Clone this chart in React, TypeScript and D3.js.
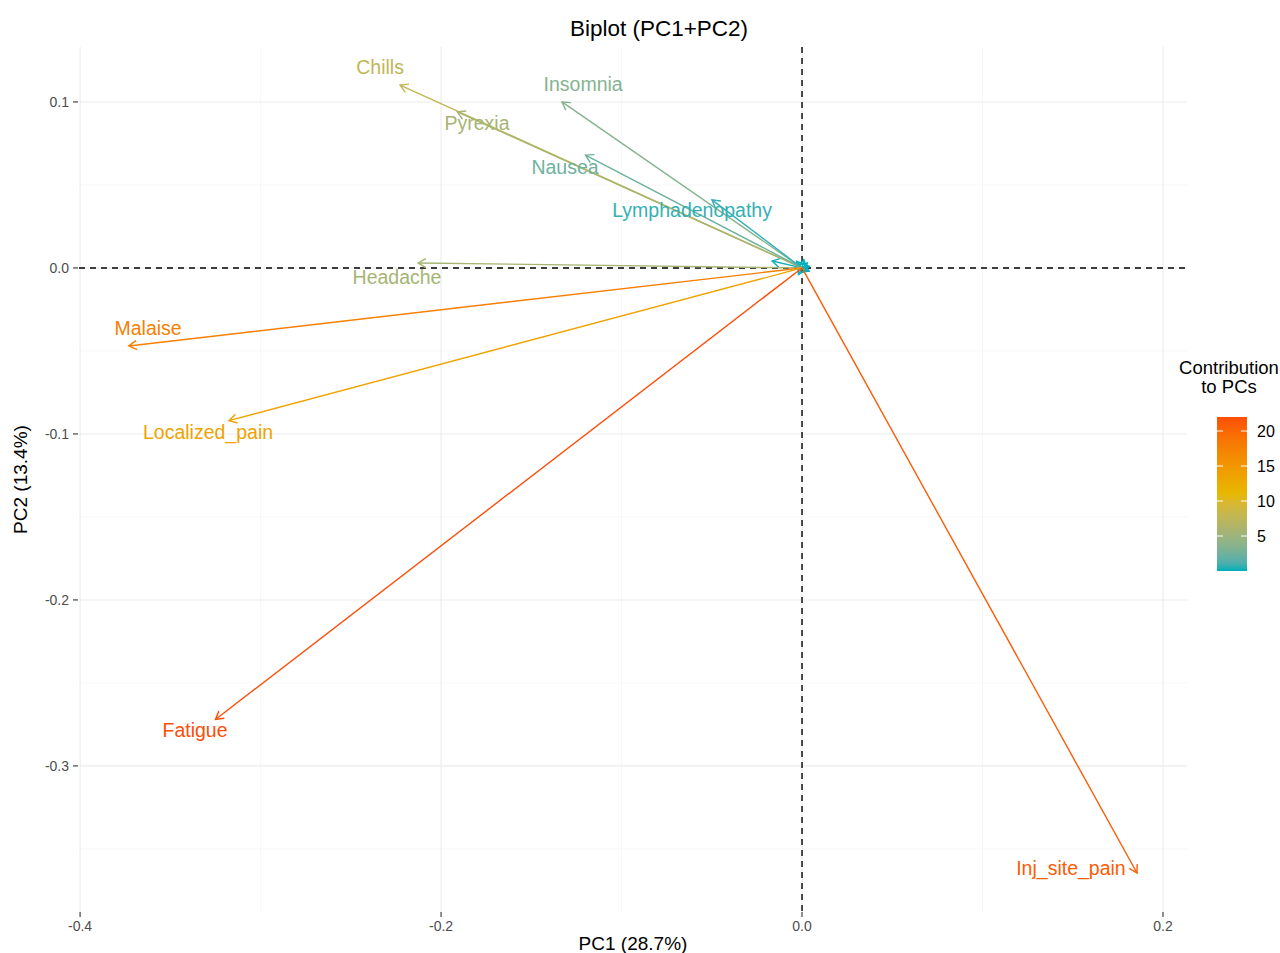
import React from "react";
import * as d3 from "d3";

// variable coordinates on PC1 / PC2
const varNames = ["Chills", "Pyrexia", "Insomnia", "Nausea", "Lymphadenopathy", "Headache", "Malaise", "Localized_pain", "Fatigue", "Inj_site_pain"];
const pc1 = [-0.2227, -0.191, -0.133, -0.12, -0.0499, -0.2127, -0.373, -0.3175, -0.325, 0.1856];
const pc2 = [0.1102, 0.094, 0.1, 0.068, 0.041, 0.003, -0.047, -0.092, -0.272, -0.3645];
const contrib = [7.7, 5.66, 3.46, 2.38, 0.52, 5.64, 17.66, 13.64, 22.0, 20.9];
// repelled label positions (data units)
const labelX = [-0.2338, -0.1801, -0.1213, -0.1313, -0.0609, -0.2244, -0.3623, -0.3291, -0.3363, 0.149];
const labelY = [0.1211, 0.0873, 0.1108, 0.0608, 0.0349, -0.0054, -0.0361, -0.0988, -0.2783, -0.3614];

// near-zero variables whose labels were dropped
const smallPc1 = [-0.0166, 0.003, -0.003, 0.004, -0.002, 0.001, 0.004];
const smallPc2 = [0.0042, 0.003, 0.004, -0.002, -0.004, 0.005, 0.001];
const smallContrib = [0.12, 0.02, 0.02, 0.02, 0.02, 0.02, 0.02];

const xTicks = [-0.4, -0.2, 0.0, 0.2];
const yTicks = [0.1, 0.0, -0.1, -0.2, -0.3];
const legendTicks = [5, 10, 15, 20];
const gradientCols = ["#00AFBB", "#E7B800", "#FC4E07"];

const W = 1280, H = 953;
const left = 79, right = 1187, top = 47, bottom = 912;
const font = "'Liberation Sans', Arial, Helvetica, sans-serif";

export default function App() {
  const x = d3.scaleLinear().domain([-0.4006, 0.2133]).range([left, right]);
  const y = d3.scaleLinear().domain([-0.388, 0.1331]).range([bottom, top]);
  const cMin = 0, cMax = 22.0;
  const color = d3.scaleLinear<string>()
    .domain([cMin, (cMin + cMax) / 2, cMax])
    .range(gradientCols)
    .interpolate(d3.interpolateLab);

  const fmt = (v: number) => d3.format(".1f")(v).replace("\u2212", "-");
  const xMinor = d3.range(-0.3, 0.21, 0.2);
  const yMinor = d3.range(0.05, -0.4, -0.1);

  const legTop = 417, legBottom = 571, legLeft = 1217, legW = 30;
  const leg = d3.scaleLinear().domain([cMin, cMax]).range([legBottom, legTop]);

  const arrow = (x1: number, y1: number, key: string, col: string) => {
    const sx = x(0), sy = y(0), ex = x(x1), ey = y(y1);
    const ang = Math.atan2(ey - sy, ex - sx);
    const len = 9, a = Math.PI / 6;
    const p1 = [ex - len * Math.cos(ang - a), ey - len * Math.sin(ang - a)];
    const p2 = [ex - len * Math.cos(ang + a), ey - len * Math.sin(ang + a)];
    return (
      <g key={key} stroke={col} strokeWidth={1.4} fill="none">
        <line x1={sx} y1={sy} x2={ex} y2={ey} />
        <path d={`M${p1[0]},${p1[1]}L${ex},${ey}L${p2[0]},${p2[1]}`} />
      </g>
    );
  };

  return (
    <svg width={W} height={H} style={{ position: "absolute", left: 0, top: 0 }} fontFamily={font}>
      <rect width={W} height={H} fill="#fff" />
      <defs>
        <linearGradient id="contribGrad" x1="0" y1="1" x2="0" y2="0">
          {d3.range(0, 1.001, 0.05).map((t) => (
            <stop key={t} offset={t} stopColor={color(cMin + t * (cMax - cMin))} />
          ))}
        </linearGradient>
      </defs>

      {/* grid */}
      {xMinor.map((v) => (
        <line key={"xm" + v} x1={x(v)} x2={x(v)} y1={top} y2={bottom} stroke="#F2F2F2" strokeWidth={0.6} />
      ))}
      {yMinor.map((v) => (
        <line key={"ym" + v} x1={left} x2={right} y1={y(v)} y2={y(v)} stroke="#F2F2F2" strokeWidth={0.6} />
      ))}
      {xTicks.map((v) => (
        <line key={"xg" + v} x1={x(v)} x2={x(v)} y1={top} y2={bottom} stroke="#EBEBEB" strokeWidth={1.1} />
      ))}
      {yTicks.map((v) => (
        <line key={"yg" + v} x1={left} x2={right} y1={y(v)} y2={y(v)} stroke="#EBEBEB" strokeWidth={1.1} />
      ))}

      {/* reference lines */}
      <line x1={left} x2={right} y1={y(0)} y2={y(0)} stroke="#000" strokeWidth={1.4} strokeDasharray="6,5" />
      <line x1={x(0)} x2={x(0)} y1={top} y2={bottom} stroke="#000" strokeWidth={1.4} strokeDasharray="6,5" />

      {/* arrows */}
      {smallPc1.map((v, i) => arrow(v, smallPc2[i], "s" + i, color(smallContrib[i])))}
      {varNames.map((n, i) => arrow(pc1[i], pc2[i], n, color(contrib[i])))}
      {varNames.map((n, i) => (
        <text key={"l" + n} x={x(labelX[i])} y={y(labelY[i])} textAnchor="middle" dominantBaseline="central"
          fontSize={19.5} fill={color(contrib[i])}>{n}</text>
      ))}

      {/* axes */}
      {xTicks.map((v) => (
        <g key={"xt" + v}>
          <line x1={x(v)} x2={x(v)} y1={bottom} y2={bottom + 5} stroke="#333" strokeWidth={1.1} />
          <text x={x(v)} y={bottom + 19} textAnchor="middle" fontSize={14} fill="#4D4D4D">{fmt(v)}</text>
        </g>
      ))}
      {yTicks.map((v) => (
        <g key={"yt" + v}>
          <line x1={left - 6} x2={left - 1} y1={y(v)} y2={y(v)} stroke="#333" strokeWidth={1.1} />
          <text x={left - 10} y={y(v)} textAnchor="end" dominantBaseline="central" fontSize={14} fill="#4D4D4D">{fmt(v)}</text>
        </g>
      ))}
      <text x={(left + right) / 2} y={950} textAnchor="middle" fontSize={19} fill="#000">PC1 (28.7%)</text>
      <text transform={`translate(27,${(top + bottom) / 2}) rotate(-90)`} textAnchor="middle" fontSize={19} fill="#000">PC2 (13.4%)</text>
      <text x={659} y={36} textAnchor="middle" fontSize={22.5} fill="#000">Biplot (PC1+PC2)</text>

      {/* legend */}
      <text x={1229} y={374} textAnchor="middle" fontSize={18.5} fill="#000">Contribution</text>
      <text x={1229} y={393} textAnchor="middle" fontSize={18.5} fill="#000">to PCs</text>
      <rect x={legLeft} y={legTop} width={legW} height={legBottom - legTop} fill="url(#contribGrad)" />
      {legendTicks.map((t) => (
        <g key={"lt" + t}>
          <line x1={legLeft} x2={legLeft + 6} y1={leg(t)} y2={leg(t)} stroke="#fff" strokeWidth={1} />
          <line x1={legLeft + legW - 6} x2={legLeft + legW} y1={leg(t)} y2={leg(t)} stroke="#fff" strokeWidth={1} />
          <text x={legLeft + legW + 10} y={leg(t)} dominantBaseline="central" fontSize={16} fill="#000">{t}</text>
        </g>
      ))}
    </svg>
  );
}
